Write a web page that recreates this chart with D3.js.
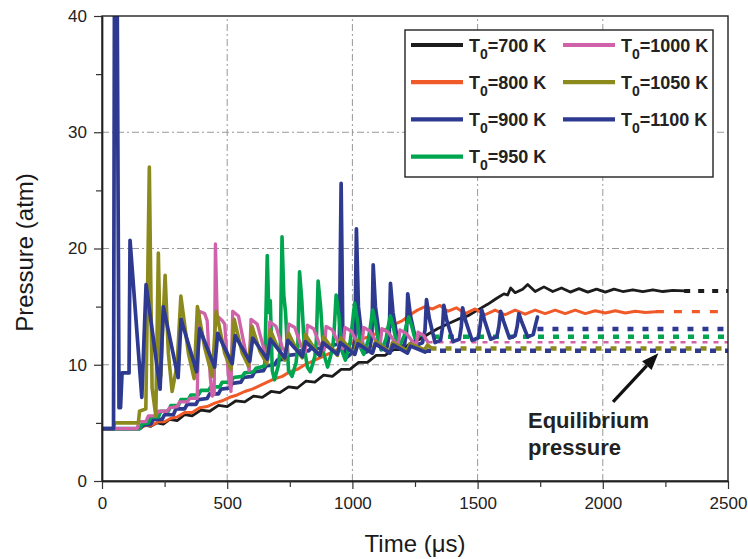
<!DOCTYPE html>
<html><head><meta charset="utf-8">
<script src="https://cdn.jsdelivr.net/npm/d3@7"></script>
<style>body{margin:0;background:#fff}</style>
</head><body>
<svg id="c" width="748" height="559"></svg>
<script>
// ---------- DATA ----------
const temperatures = ["700 K","800 K","900 K","950 K","1000 K","1050 K","1100 K"];
const xTicks = [0,500,1000,1500,2000,2500];
const xMinorTicks = [250,750,1250,1750,2250];
const yTicks = [0,10,20,30,40];
const yMinorTicks = [5,15,25,35];

const p700 = [[0,4.5],[150,4.5],[170,4.8],[195,4.7],[220,5.0],[245,4.9],[270,5.3],[300,5.2],[330,5.7],[360,5.6],[395,6.1],[430,6.0],[465,6.5],[500,6.4],[535,6.9],[570,6.8],[605,7.3],[640,7.2],[675,7.7],[710,7.6],[745,8.1],[780,8.0],[815,8.6],[850,8.5],[885,9.1],[920,9.0],[955,9.6],[990,9.6],[1025,10.2],[1060,10.2],[1095,10.8],[1130,10.8],[1165,11.3],[1200,11.3],[1235,11.9],[1270,12.2],[1300,12.6],[1340,13.1],[1380,13.5],[1420,13.9],[1460,14.2],[1500,14.7],[1540,15.2],[1575,15.7],[1605,16.1],[1620,16.0],[1632,16.6],[1650,16.2],[1680,16.5],[1700,16.9],[1730,16.3],[1765,16.7],[1800,16.3],[1835,16.6],[1870,16.25],[1905,16.55],[1940,16.25],[1975,16.5],[2010,16.25],[2045,16.5],[2080,16.3],[2120,16.45],[2160,16.3],[2200,16.45],[2240,16.3],[2280,16.4],[2325,16.35]];

const p800 = [[0,4.5],[150,4.5],[175,4.8],[200,4.8],[225,5.1],[250,5.1],[275,5.4],[300,5.5],[330,5.9],[360,5.9],[390,6.3],[420,6.4],[450,6.7],[480,6.9],[510,7.2],[540,7.4],[570,7.7],[600,7.9],[630,8.2],[660,8.5],[690,8.8],[720,9.0],[750,9.4],[780,9.6],[810,10.0],[840,10.3],[870,10.6],[900,10.9],[930,11.2],[960,11.5],[990,11.8],[1020,12.0],[1050,12.3],[1080,12.5],[1110,12.9],[1140,13.1],[1170,13.5],[1200,13.8],[1230,14.3],[1260,14.7],[1290,15.0],[1320,14.8],[1350,15.1],[1380,14.6],[1415,14.9],[1450,14.4],[1490,14.8],[1530,14.3],[1570,14.7],[1610,14.3],[1650,14.7],[1690,14.35],[1730,14.7],[1770,14.4],[1810,14.7],[1850,14.4],[1890,14.7],[1930,14.4],[1970,14.65],[2010,14.45],[2050,14.65],[2090,14.45],[2130,14.6],[2170,14.5],[2212,14.55]];

const p900 = [[0,4.5],[150,4.5],[165,4.8],[195,4.9],[205,5.3],[240,5.3],[250,5.7],[285,5.7],[295,6.2],[330,6.2],[340,6.6],[375,6.6],[385,7.0],[420,7.1],[430,7.5],[465,7.5],[475,7.9],[510,8.0],[520,8.4],[555,8.5],[565,8.9],[600,9.0],[610,9.4],[645,9.5],[655,9.9],[690,10.0],[700,10.4],[735,10.5],[745,10.8],[780,10.9],[790,11.2],[825,11.2],[835,11.4],[870,11.4],[880,11.6],[915,11.6],[925,11.7],[948,11.8],[955,25.6],[962,12.0],[975,10.6],[998,11.0],[1010,12.0],[1016,21.7],[1024,15.0],[1045,11.0],[1068,11.2],[1078,12.5],[1083,18.6],[1092,15.0],[1115,11.3],[1138,11.5],[1147,12.5],[1152,17.0],[1162,14.5],[1185,11.5],[1208,11.7],[1216,12.8],[1221,16.1],[1232,14.2],[1257,11.7],[1280,11.9],[1290,13.0],[1296,15.6],[1307,14.0],[1330,11.9],[1352,12.1],[1360,13.2],[1365,15.1],[1377,13.8],[1402,12.0],[1427,12.2],[1435,13.3],[1440,14.9],[1452,13.8],[1478,12.1],[1502,12.3],[1510,13.3],[1517,14.7],[1528,13.8],[1552,12.2],[1577,12.4],[1585,13.3],[1592,14.6],[1603,13.8],[1627,12.3],[1650,12.5],[1658,13.3],[1665,14.4],[1676,13.7],[1700,12.4],[1722,12.6],[1732,13.5],[1739,14.1]];

const p950 = [[0,4.5],[150,4.5],[160,4.9],[185,5.0],[195,5.5],[225,5.5],[235,6.0],[265,6.0],[275,6.5],[305,6.5],[315,7.0],[345,7.0],[355,7.4],[385,7.4],[395,7.8],[425,7.8],[435,8.1],[470,8.1],[480,8.5],[515,8.5],[525,8.9],[560,9.0],[570,9.3],[605,9.4],[615,9.7],[650,9.9],[660,19.4],[666,14.5],[672,15.5],[680,9.5],[689,8.7],[705,10.0],[712,11.5],[719,21.0],[726,16.0],[733,14.5],[745,9.5],[759,9.0],[775,10.2],[782,11.5],[789,18.0],[798,15.5],[808,11.5],[820,9.8],[832,9.4],[850,10.7],[856,12.0],[863,17.2],[873,15.0],[885,11.0],[901,9.8],[920,11.3],[926,12.5],[935,16.0],[946,14.3],[958,11.2],[972,10.4],[990,11.8],[996,12.8],[1009,15.3],[1020,13.8],[1032,11.5],[1045,10.9],[1063,12.1],[1070,13.0],[1081,14.7],[1093,13.5],[1105,11.8],[1118,11.3],[1135,12.3],[1142,13.2],[1152,14.2],[1163,13.3],[1175,12.0],[1190,11.7],[1207,12.5],[1214,13.3],[1225,14.1],[1236,13.4],[1248,12.4],[1258,12.2],[1262,12.4]];

const p1000 = [[0,4.5],[140,4.5],[148,5.1],[175,5.1],[185,5.6],[215,5.6],[225,6.0],[260,6.0],[270,6.3],[300,6.4],[310,6.8],[340,6.8],[350,7.1],[380,7.1],[388,14.6],[410,14.4],[420,13.8],[432,9.0],[440,7.3],[448,7.5],[453,20.4],[460,14.2],[480,13.8],[490,13.5],[505,9.0],[515,7.7],[522,14.6],[545,14.2],[570,11.5],[588,9.5],[595,13.9],[620,13.5],[645,11.5],[662,10.4],[670,13.7],[695,13.3],[720,11.5],[738,10.9],[745,13.5],[770,13.2],[795,11.6],[812,11.1],[820,13.4],[845,13.1],[870,11.7],[888,11.3],[895,13.3],[920,13.0],[945,11.8],[962,11.4],[970,13.2],[995,12.9],[1020,11.9],[1037,11.5],[1045,13.2],[1070,12.9],[1095,12.0],[1110,11.6],[1118,13.1],[1143,12.8],[1168,12.0],[1183,11.7],[1190,13.0],[1215,12.7],[1240,12.0],[1255,11.7],[1262,12.8],[1285,12.5],[1300,12.0]];

const p1050 = [[0,4.5],[45,4.5],[50,5.0],[145,5.0],[150,6.0],[175,6.2],[189,27.0],[200,8.0],[215,5.6],[225,19.6],[235,9.0],[240,12.0],[252,17.7],[265,11.0],[280,7.7],[300,10.0],[315,15.9],[345,11.0],[368,8.8],[381,15.0],[410,11.5],[440,9.0],[456,14.6],[490,11.0],[515,9.6],[528,13.9],[560,11.0],[585,9.9],[599,13.3],[630,11.2],[658,10.1],[672,13.0],[705,11.3],[730,10.4],[745,12.7],[775,11.4],[800,10.6],[812,12.6],[845,11.5],[872,10.7],[885,12.4],[915,11.5],[940,10.8],[952,12.3],[985,11.5],[1007,10.9],[1019,12.1],[1050,11.5],[1078,11.0],[1092,12.0],[1125,11.5],[1148,11.1],[1160,11.9],[1195,11.5],[1218,11.2],[1230,11.8],[1265,11.5],[1288,11.3],[1300,11.7],[1312,11.5]];

const p1100 = [[0,4.5],[46,4.5],[50,45],[60,45],[68,6.3],[74,6.3],[80,9.3],[108,9.3],[112,20.7],[159,7.2],[176,16.9],[232,7.9],[245,15.0],[304,8.9],[316,13.9],[378,9.4],[390,13.1],[450,9.8],[462,12.7],[520,10.1],[532,12.5],[590,10.3],[602,12.3],[660,10.5],[672,12.2],[730,10.6],[742,12.1],[800,10.7],[812,12.0],[870,10.8],[882,11.9],[940,10.9],[952,11.9],[1010,10.9],[1022,11.8],[1080,11.0],[1092,11.8],[1150,11.0],[1162,11.7],[1220,11.0],[1232,11.6],[1290,11.1]];

const equilibrium = [16.35,14.57,13.07,12.4,11.93,11.4,11.2];
const annotationLines = ["Equilibrium","pressure"];
const arrowTail = [2041,6.8];
const arrowHead = [2222,11.0];

const seriesData = [p700,p800,p900,p950,p1000,p1050,p1100];

// ---------- STYLE ----------
const colors = ["#1c1c1c","#f05a28","#2d3a90","#00a54f","#d062aa","#8c8a1c","#2d3a90"];
const widths = [2.8,3.0,3.7,3.6,3.3,3.6,3.7];
const dotW = [4,3.2,4.5,4.5,2.6,4.5,4.5];
const dotDash = ["6,8","8,10","6,9","6,9","5,6","6,9","6,9"];

const svg = d3.select("#c");
const X0=102, X1=728, Y0=481, Y1=16;
const x = d3.scaleLinear().domain([0,2500]).range([X0,X1]);
const y = d3.scaleLinear().domain([0,40]).range([Y0,Y1]);

svg.append("rect").attr("width",748).attr("height",559).attr("fill","#fff");

// grid
const grid = svg.append("g").attr("stroke","#999").attr("stroke-width",1).attr("stroke-dasharray","7,3,2,3").attr("fill","none");
xTicks.filter(t=>t>0&&t<2500).forEach(t=>grid.append("line").attr("x1",x(t)).attr("x2",x(t)).attr("y1",Y0).attr("y2",Y1));
yTicks.filter(t=>t>0&&t<40).forEach(t=>grid.append("line").attr("x1",X0).attr("x2",X1).attr("y1",y(t)).attr("y2",y(t)));

svg.append("defs").append("clipPath").attr("id","clip").append("rect")
  .attr("x",X0).attr("y",Y1).attr("width",X1-X0).attr("height",Y0-Y1);

const plot = svg.append("g").attr("clip-path","url(#clip)");
const line = d3.line().x(d=>x(d[0])).y(d=>y(d[1]));

// equilibrium dotted lines
seriesData.forEach((s,i)=>{
  const tEnd = s[s.length-1][0];
  plot.append("line").attr("x1",x(tEnd)).attr("x2",x(2500))
    .attr("y1",y(equilibrium[i])).attr("y2",y(equilibrium[i]))
    .attr("stroke",colors[i]).attr("stroke-width",dotW[i]).attr("stroke-dasharray",dotDash[i]);
});
// series
seriesData.forEach((s,i)=>{
  plot.append("path").datum(s).attr("d",line).attr("fill","none")
    .attr("stroke",colors[i]).attr("stroke-width",widths[i])
    .attr("stroke-linejoin","round").attr("stroke-linecap","round");
});

// frame
svg.append("rect").attr("x",X0).attr("y",Y1).attr("width",X1-X0).attr("height",Y0-Y1)
  .attr("fill","none").attr("stroke","#222").attr("stroke-width",1.4);

// axes
const fontTick = "17px 'Liberation Sans', Arial, sans-serif";
svg.append("g").attr("transform",`translate(0,${Y0})`)
  .call(d3.axisBottom(x).tickValues(xTicks).tickSize(8).tickSizeOuter(0).tickPadding(8).tickFormat(d3.format("d")));
svg.append("g").attr("transform",`translate(0,${Y0})`)
  .call(d3.axisBottom(x).tickValues(xMinorTicks).tickSize(6).tickSizeOuter(0).tickFormat(""));
svg.append("g").attr("transform",`translate(${X0},0)`)
  .call(d3.axisLeft(y).tickValues(yTicks).tickSize(8).tickSizeOuter(0).tickPadding(7).tickFormat(d3.format("d")));
svg.append("g").attr("transform",`translate(${X0},0)`)
  .call(d3.axisLeft(y).tickValues(yMinorTicks).tickSize(6).tickSizeOuter(0).tickFormat(""));
svg.selectAll(".domain").attr("stroke","#222").attr("stroke-width",1.4);
svg.selectAll(".tick line").attr("stroke","#333").attr("stroke-width",1.2);
svg.selectAll(".tick text").style("font",fontTick).attr("fill","#222");

// axis titles
svg.append("text").attr("x",(X0+X1)/2).attr("y",552).attr("text-anchor","middle")
  .style("font","24px 'Liberation Sans', Arial, sans-serif").attr("fill","#1a1a1a").text("Time (\u03bcs)");
svg.append("text").attr("transform",`translate(33,${(Y0+Y1)/2+4}) rotate(-90)`).attr("text-anchor","middle")
  .style("font","24px 'Liberation Sans', Arial, sans-serif").attr("fill","#1a1a1a").text("Pressure (atm)");

// legend
const lg = svg.append("g");
lg.append("rect").attr("x",405).attr("y",30).attr("width",308).attr("height",147)
  .attr("fill","#fff").attr("stroke","#222").attr("stroke-width",1.4);
temperatures.forEach((t,i)=>{
  const col = i<4?0:1, row = i<4?i:i-4;
  const lx = col===0?411:563, ly = 45+row*37.2;
  lg.append("line").attr("x1",lx).attr("x2",lx+52).attr("y1",ly).attr("y2",ly)
    .attr("stroke",colors[i]).attr("stroke-width",4.2);
  const tx = lg.append("text").attr("x",lx+58).attr("y",ly+6.7)
    .style("font","bold 18px 'Liberation Sans', Arial, sans-serif").attr("fill","#222");
  tx.append("tspan").text("T");
  tx.append("tspan").attr("dy",7).style("font-size","14px").text("0");
  tx.append("tspan").attr("dy",-7).text("="+t);
});

// annotation
const ann = svg.append("g");
annotationLines.forEach((s,i)=>{
  ann.append("text").attr("x",528).attr("y",428+i*27)
    .style("font","bold 22px 'Liberation Sans', Arial, sans-serif").attr("fill","#222").text(s);
});
const ax0=x(arrowTail[0]), ay0=y(arrowTail[1]), ax1=x(arrowHead[0]), ay1=y(arrowHead[1]);
const ang = Math.atan2(ay1-ay0, ax1-ax0);
const hl=17, hw=6.5;
const bx = ax1-hl*Math.cos(ang), by = ay1-hl*Math.sin(ang);
ann.append("line").attr("x1",ax0).attr("y1",ay0).attr("x2",bx).attr("y2",by)
  .attr("stroke","#111").attr("stroke-width",3.2);
ann.append("path").attr("d",`M${ax1},${ay1}L${bx+hw*Math.sin(ang)},${by-hw*Math.cos(ang)}L${bx-hw*Math.sin(ang)},${by+hw*Math.cos(ang)}Z`)
  .attr("fill","#111");
</script>
</body></html>
